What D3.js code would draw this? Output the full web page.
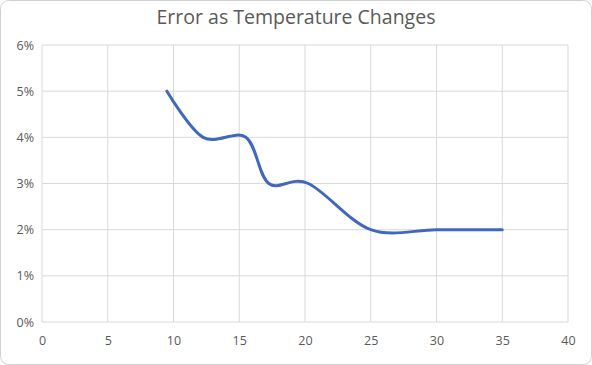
<!DOCTYPE html>
<html>
<head>
<meta charset="utf-8">
<script src="https://cdn.jsdelivr.net/npm/d3@7"></script>
<style>
	body { margin: 0; background: #fff; }
	.tick text { font-family: "Open Sans", sans-serif; font-size: 12.5px; fill: #595959; }
</style>
</head>
<body>
<div id="js_chart"></div>
<script>
	'use strict';
	// Temperature values (x) and error (y)
	const temperatures = [9.5, 12.25, 15.5, 17.25, 20.25, 25, 30, 35];
	const errors = [0.05, 0.04, 0.04, 0.03, 0.03, 0.02, 0.02, 0.02];
	const xTicks = [0, 5, 10, 15, 20, 25, 30, 35, 40];
	const yTicks = [0, 0.01, 0.02, 0.03, 0.04, 0.05, 0.06];
	const chartTitle = 'Error as Temperature Changes';

	const width = 592;
	const height = 365;
	const margin = { top: 45, right: 24, bottom: 43, left: 42 };
	const gridColor = '#d9d9d9';
	const lineColor = '#4068bf';

	let svg = d3.select('#js_chart').append('svg')
		.attr('width', width)
		.attr('height', height);

	// Outer frame
	svg.append('rect')
		.attr('x', 0.5).attr('y', 0.5)
		.attr('width', width - 1).attr('height', height - 1)
		.attr('rx', 8)
		.style('fill', '#fff')
		.style('stroke', '#d0d0d0');

	let xScale = d3.scaleLinear()
		.domain([0, 40])
		.range([margin.left, width - margin.right]);
	let yScale = d3.scaleLinear()
		.domain([0, 0.06])
		.range([height - margin.bottom, margin.top]);

	// Gridlines
	svg.append('g').selectAll('line.vgrid')
		.data(xTicks).enter().append('line')
		.attr('x1', function (d) { return xScale(d); })
		.attr('x2', function (d) { return xScale(d); })
		.attr('y1', yScale(0))
		.attr('y2', yScale(0.06))
		.style('stroke', gridColor);
	svg.append('g').selectAll('line.hgrid')
		.data(yTicks).enter().append('line')
		.attr('x1', xScale(0))
		.attr('x2', xScale(40))
		.attr('y1', function (d) { return yScale(d); })
		.attr('y2', function (d) { return yScale(d); })
		.style('stroke', gridColor);

	// Axes (labels only)
	let xAxis = svg.append('g')
		.attr('transform', 'translate(0,' + yScale(0) + ')')
		.call(d3.axisBottom(xScale).tickValues(xTicks).tickSize(0).tickPadding(14));
	xAxis.select('.domain').remove();

	let yAxis = svg.append('g')
		.attr('transform', 'translate(' + xScale(0) + ',0)')
		.call(d3.axisLeft(yScale).tickValues(yTicks).tickSize(0).tickPadding(8)
			.tickFormat(d3.format('.0%')));
	yAxis.select('.domain').remove();

	// Title
	svg.append('text')
		.attr('x', width / 2)
		.attr('y', 24)
		.attr('text-anchor', 'middle')
		.style('font-family', '"Open Sans", sans-serif')
		.style('font-size', '19.5px')
		.style('fill', '#595959')
		.text(chartTitle);

	// Smoothed line
	let points = temperatures.map(function (t, i) { return [t, errors[i]]; });
	let line = d3.line()
		.x(function (d) { return xScale(d[0]); })
		.y(function (d) { return yScale(d[1]); })
		.curve(d3.curveCardinal.tension(0));
	svg.append('path')
		.datum(points)
		.attr('d', line)
		.style('fill', 'none')
		.style('stroke', lineColor)
		.style('stroke-width', 3)
		.style('stroke-linecap', 'round');
</script>
</body>
</html>
